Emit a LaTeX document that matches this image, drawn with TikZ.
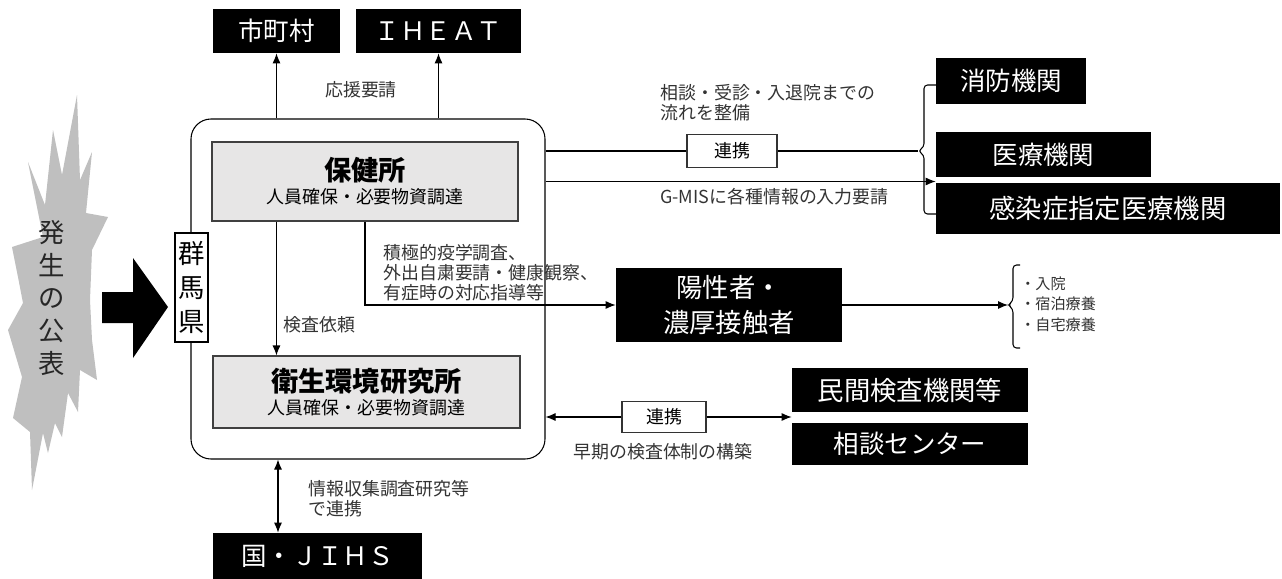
\documentclass[tikz,border=0pt]{standalone}
\usepackage{fontspec}
\setmainfont{Noto Sans CJK JP}
\usetikzlibrary{arrows.meta,positioning,calc}
\definecolor{burstgray}{RGB}{191,191,191}
\definecolor{boxgray}{RGB}{231,230,230}

\begin{document}
\begin{tikzpicture}[
    x=0.2mm, y=-0.2mm,
    blackbox/.style={
        fill=black,
        text=white,
        inner sep=0pt,
        align=center,
        font=\fontsize{14.5}{19.5}\selectfont
    },
    graybox/.style={
        draw=black!75,
        line width=0.6pt,
        fill=boxgray,
        inner sep=0pt,
        align=center
    },
    tagbox/.style={
        draw=black!80,
        line width=0.6pt,
        fill=white,
        inner sep=0pt,
        font=\fontsize{10.2}{12}\selectfont
    },
    note/.style={text=black!80, inner sep=0pt, align=left, font=\fontsize{10.2}{11.4}\selectfont},
    arrow/.style={-{Latex[length=2mm,width=1.6mm]}, line width=0.6pt},
    twoway/.style={{Latex[length=2mm,width=1.6mm]}-{Latex[length=2mm,width=1.6mm]}, line width=0.6pt},
    link/.style={line width=0.6pt}
]
\useasboundingbox (0,0) rectangle (1282,578);

% announcement burst and big arrow
\fill[burstgray] (77,95) -- (80,180) -- (92,152) -- (86,213) -- (108,217) -- (92,250)
    -- (90,300) -- (92,340) -- (97,380) -- (80,370) -- (78,412) -- (68,393) -- (62,437)
    -- (55,423) -- (48,453) -- (43,433) -- (32,490) -- (30,432) -- (13,418) -- (22,377)
    -- (8,330) -- (23,303) -- (18,277) -- (12,247) -- (43,237) -- (28,162) -- (45,205)
    -- (53,130) -- (62,175) -- cycle;
\node[inner sep=0pt, align=center, text=black!85, font=\fontsize{15}{18.7}\selectfont] (hassei) at (52,298) {発\\生\\の\\公\\表};
\fill (102,292) -- (133,292) -- (133,258) -- (168,307) -- (133,358) -- (133,323) -- (102,323) -- cycle;

% prefecture frame
\node[draw, line width=0.6pt, rounded corners=4mm, minimum width=70.8mm, minimum height=68mm] (pref) at (368,289) {};
\node[graybox, minimum width=61.2mm, minimum height=15.8mm] (hoken) at (365,181.5)
    {{\bfseries\fontsize{15.5}{16}\selectfont 保健所}\\[1pt]{\fontsize{10.2}{12}\selectfont 人員確保・必要物資調達}};
\node[graybox, minimum width=61.4mm, minimum height=14.4mm] (eisei) at (366.5,392)
    {{\bfseries\fontsize{15.5}{16}\selectfont 衛生環境研究所}\\[1pt]{\fontsize{10.2}{12}\selectfont 人員確保・必要物資調達}};
\node[draw, line width=0.6pt, fill=white, inner sep=0pt, minimum width=6.6mm, minimum height=21.8mm,
    align=center, font=\fontsize{15}{19.5}\selectfont] (gunma) at (191.5,287.5) {群\\馬\\県};

% support requests
\node[blackbox, minimum width=25.4mm, minimum height=8.8mm] (shichoson) at (276.5,31) {市町村};
\node[blackbox, minimum width=33mm, minimum height=8.8mm] (iheat) at (438.5,31) {ＩＨＥＡＴ};
\draw[arrow] (shichoson.south |- pref.north) -- (shichoson.south);
\draw[arrow] (iheat.south |- pref.north) -- (iheat.south);
\node[note] (ouen) at (361,90) {応援要請};

% medical side
\node[blackbox, minimum width=30mm, minimum height=9.2mm] (shobo) at (1011,81) {消防機関};
\node[blackbox, minimum width=43mm, minimum height=9mm] (iryo) at (1043.5,154.5) {医療機関};
\node[blackbox, minimum width=68.8mm, minimum height=10.2mm, font=\fontsize{15}{18}\selectfont] (kansen) at (1108,208.5) {感染症指定医療機関};
\coordinate (fork) at (918,151);
\draw[link, rounded corners=2pt] (936,85) -- (924,85) -- (924,147) -- (fork) -- (924,155) -- (924,214) -- (936,214);
\node[tagbox, minimum width=18mm, minimum height=6.6mm] (renkei1) at (732,151) {連携};
\draw[link] (renkei1.west -| pref.east) -- (renkei1.west);
\draw[link] (renkei1.east) -- (fork);
\draw[arrow] (hoken.east -| pref.east) -- (hoken.east -| kansen.west);
\node[note, anchor=west] (soudan) at (660,103) {相談・受診・入退院までの\\流れを整備};
\node[note, anchor=west] (gmis) at (660,197) {G-MISに各種情報の入力要請};

% positive cases
\node[blackbox, minimum width=45.2mm, minimum height=14.8mm, font=\fontsize{15}{19.8}\selectfont] (yousei) at (729,305) {陽性者・\\濃厚接触者};
\draw[arrow] (hoken.south) |- (yousei.west);
\node[note, anchor=west] (sekkyoku) at (383,273) {積極的疫学調査、\\外出自粛要請・健康観察、\\有症時の対応指導等};
\coordinate (fork2) at (1008,305);
\draw[link, rounded corners=2pt] (1020,265) -- (1013,265) -- (1013,301) -- (fork2) -- (1013,309) -- (1013,348) -- (1020,348);
\draw[arrow] (yousei.east) -- (fork2);
\node[note, anchor=west, font=\fontsize{8.6}{11.6}\selectfont] (ryoyo) at (1020,304) {・入院\\・宿泊療養\\・自宅療養};

% testing request
\draw[arrow] ([xshift=13mm]hoken.south west) -- ([xshift=13mm]hoken.south west |- eisei.north);
\node[note, anchor=west] (kensa) at (283,325) {検査依頼};

% testing network
\node[blackbox, minimum width=47.2mm, minimum height=8.8mm, font=\fontsize{15}{18}\selectfont] (minkan) at (910,390) {民間検査機関等};
\node[blackbox, minimum width=47.2mm, minimum height=8.4mm, below=2mm of minkan] (sodan) {相談センター};
\coordinate (split) at ($(minkan.south west)!0.5!(sodan.north west)$);
\node[tagbox, minimum width=16.8mm, minimum height=6.2mm] (renkei2) at (664,417) {連携};
\draw[arrow] (renkei2.west) -- (renkei2.west -| pref.east);
\draw[arrow] (renkei2.east) -- (renkei2.east -| split);
\node[note] (souki) at (663,452) {早期の検査体制の構築};

% national level
\node[blackbox, minimum width=41.8mm, minimum height=9.2mm] (kuni) at (317.5,556) {国・ＪＩＨＳ};
\draw[twoway] (kuni.north -| shichoson.south) ++(0.3mm,0) coordinate (kunitop) -- (kunitop |- pref.south);
\node[note, anchor=west] (jouhou) at (308,499) {情報収集調査研究等\\で連携};

\end{tikzpicture}
\end{document}
